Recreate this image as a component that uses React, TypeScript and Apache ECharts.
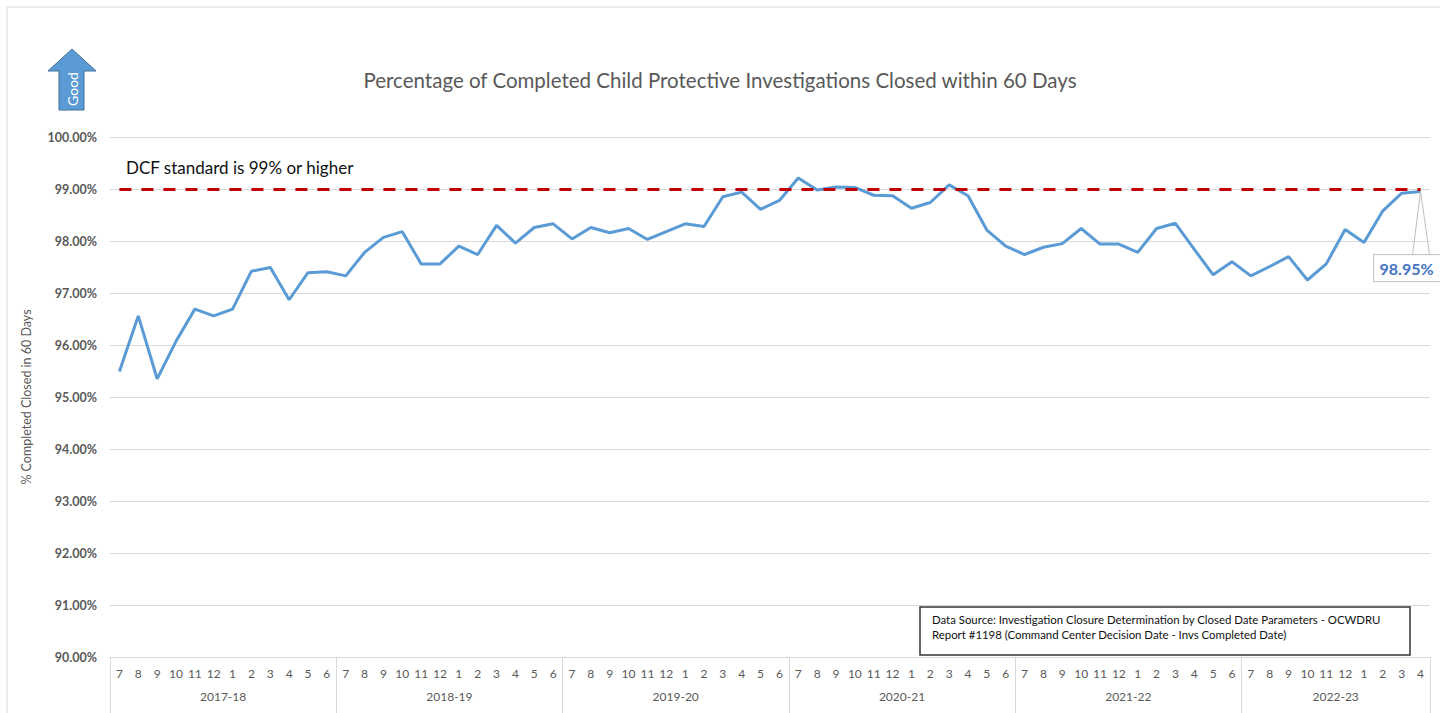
import React, { useEffect, useRef } from "react";
import * as echarts from "echarts";

const monthLabels = [
  "7","8","9","10","11","12","1","2","3","4","5","6",
  "7","8","9","10","11","12","1","2","3","4","5","6",
  "7","8","9","10","11","12","1","2","3","4","5","6",
  "7","8","9","10","11","12","1","2","3","4","5","6",
  "7","8","9","10","11","12","1","2","3","4","5","6",
  "7","8","9","10","11","12","1","2","3","4",
];

const fiscalYears = ["2017-18", "2018-19", "2019-20", "2020-21", "2021-22", "2022-23"];
const monthsPerYear = [12, 12, 12, 12, 12, 10];

const pctClosed = [
  95.49, 96.56, 95.35, 96.07, 96.69, 96.56, 96.69, 97.42, 97.49, 96.87, 97.39, 97.41,
  97.33, 97.78, 98.07, 98.18, 97.56, 97.56, 97.90, 97.74, 98.30, 97.96, 98.26, 98.33,
  98.04, 98.26, 98.16, 98.24, 98.03, 98.18, 98.33, 98.28, 98.85, 98.94, 98.61, 98.78,
  99.21, 98.98, 99.04, 99.03, 98.88, 98.87, 98.63, 98.74, 99.08, 98.87, 98.21, 97.90,
  97.74, 97.88, 97.95, 98.24, 97.94, 97.94, 97.78, 98.24, 98.34, 97.84, 97.35, 97.60,
  97.33, 97.51, 97.70, 97.25, 97.56, 98.22, 97.97, 98.58, 98.92, 98.95,
];

const dcfStandard = 99;
const yTicks = { min: 90, max: 100, step: 1 };

const titleText = "Percentage of Completed Child Protective Investigations Closed within 60 Days";
const yAxisName = "% Completed Closed in 60 Days";
const standardText = "DCF standard is 99% or higher";
const sourceLines = [
  "Data Source: Investigation Closure Determination by Closed Date Parameters - OCWDRU",
  "Report #1198 (Command Center Decision Date - Invs Completed Date)",
];

const FONT = "Lato, 'Open Sans', sans-serif";
const GRAY = "#595959";
const GRID = "#D9D9D9";

export default function App() {
  const ref = useRef<HTMLDivElement>(null);

  useEffect(() => {
    if (!ref.current) return;
    const chart = echarts.init(ref.current, null, { renderer: "svg" });

    const boundaries: number[] = [0];
    monthsPerYear.forEach((n) => boundaries.push(boundaries[boundaries.length - 1] + n));
    const centers = monthsPerYear.map((n, i) => boundaries[i] + n / 2);
    const total = boundaries[boundaries.length - 1];

    const option: any = {
      animation: false,
      backgroundColor: "#fff",
      textStyle: { fontFamily: FONT },
      title: {
        text: titleText,
        left: "center",
        top: 64,
        textStyle: { fontFamily: FONT, fontSize: 20.5, fontWeight: "normal", color: GRAY },
      },
      grid: { left: 110, right: 10, top: 137, bottom: 56, containLabel: false },
      xAxis: [
        {
          type: "category",
          data: monthLabels,
          boundaryGap: true,
          axisLine: { show: true, lineStyle: { color: GRID, width: 1 } },
          axisTick: { show: false },
          axisLabel: { interval: 0, fontSize: 12, color: GRAY, margin: 10, fontFamily: FONT },
          splitLine: { show: false },
        },
        {
          type: "value",
          min: 0,
          max: total,
          position: "bottom",
          axisLine: { show: false },
          axisTick: {
            show: true,
            inside: false,
            length: 56,
            customValues: boundaries,
            lineStyle: { color: GRID, width: 1 },
          },
          axisLabel: {
            show: true,
            customValues: centers,
            margin: 33,
            fontSize: 12,
            color: GRAY,
            fontFamily: FONT,
            formatter: (v: number) => {
              const idx = centers.findIndex((c) => Math.abs(c - v) < 1e-6);
              return idx >= 0 ? fiscalYears[idx] : "";
            },
          },
          splitLine: { show: false },
        },
      ],
      yAxis: {
        type: "value",
        min: yTicks.min,
        max: yTicks.max,
        interval: yTicks.step,
        name: yAxisName,
        nameLocation: "middle",
        nameGap: 77,
        nameTextStyle: { fontSize: 12.5, color: GRAY, fontFamily: FONT },
        axisLine: { show: false },
        axisTick: { show: false },
        axisLabel: {
          fontSize: 12.5,
          fontWeight: "bold",
          color: GRAY,
          margin: 13,
          fontFamily: FONT,
          formatter: (v: number) => v.toFixed(2) + "%",
        },
        splitLine: { show: true, lineStyle: { color: GRID, width: 1 } },
      },
      series: [
        {
          type: "line",
          data: pctClosed,
          showSymbol: false,
          symbol: "none",
          lineStyle: { color: "#5B9BD5", width: 3 },
          itemStyle: { color: "#5B9BD5" },
          z: 3,
          markLine: {
            silent: true,
            symbol: "none",
            label: { show: false },
            lineStyle: { color: "#C00000", width: 3, type: [12, 10] },
            data: [[{ coord: [0, dcfStandard] }, { coord: [pctClosed.length - 1, dcfStandard] }]],
          },
        },
      ],
    };

    chart.setOption(option);

    const lastIdx = pctClosed.length - 1;
    const last = pctClosed[lastIdx];
    const p = chart.convertToPixel({ seriesIndex: 0 }, [lastIdx, last]) as number[];
    const px = p[0];
    const py = p[1];

    chart.setOption({
      graphic: [
        {
          type: "rect",
          silent: true,
          shape: { x: 7, y: 7, width: 1440, height: 720 },
          style: { fill: "none", stroke: "#D9D9D9", lineWidth: 1 },
          z: 0,
        },
        {
          type: "polygon",
          silent: true,
          shape: {
            points: [[72, 49], [96, 71], [84, 71], [84, 110], [59, 110], [59, 71], [48, 71]],
          },
          style: { fill: "#5B9BD5", stroke: "#41719C", lineWidth: 1 },
          z: 10,
        },
        {
          type: "text",
          silent: true,
          x: 72,
          y: 89,
          rotation: Math.PI / 2,
          style: {
            text: "Good",
            fill: "#fff",
            font: `14px ${FONT}`,
            align: "center",
            verticalAlign: "middle",
          },
          z: 11,
        },
        {
          type: "text",
          silent: true,
          x: 126,
          y: 167,
          style: {
            text: standardText,
            fill: "#111",
            font: `17px ${FONT}`,
            align: "left",
            verticalAlign: "middle",
          },
          z: 10,
        },
        {
          type: "rect",
          silent: true,
          shape: { x: 920, y: 607, width: 490, height: 48 },
          style: { fill: "#fff", stroke: "#333", lineWidth: 1.5 },
          z: 10,
        },
        {
          type: "text",
          silent: true,
          x: 932,
          y: 612,
          style: {
            text: sourceLines.join("\n"),
            fill: "#111",
            font: `11.4px ${FONT}`,
            lineHeight: 15,
            align: "left",
            verticalAlign: "top",
          },
          z: 11,
        },
        {
          type: "rect",
          silent: true,
          shape: { x: px - 47, y: py + 63, width: 80, height: 27 },
          style: { fill: "#fff", stroke: "#BFBFBF", lineWidth: 1 },
          z: 10,
        },
        {
          type: "polyline",
          silent: true,
          shape: { points: [[px - 8, py + 63], [px, py], [px + 9, py + 63]] },
          style: { stroke: "#BFBFBF", lineWidth: 1, fill: "none" },
          z: 10,
        },
        {
          type: "text",
          silent: true,
          x: px - 14,
          y: py + 77,
          style: {
            text: last.toFixed(2) + "%",
            fill: "#4472C4",
            font: `bold 16px ${FONT}`,
            align: "center",
            verticalAlign: "middle",
          },
          z: 11,
        },
      ],
    });

    return () => chart.dispose();
  }, []);

  return (
    <div
      ref={ref}
      style={{ position: "absolute", left: 0, top: 0, width: 1440, height: 713 }}
    />
  );
}
